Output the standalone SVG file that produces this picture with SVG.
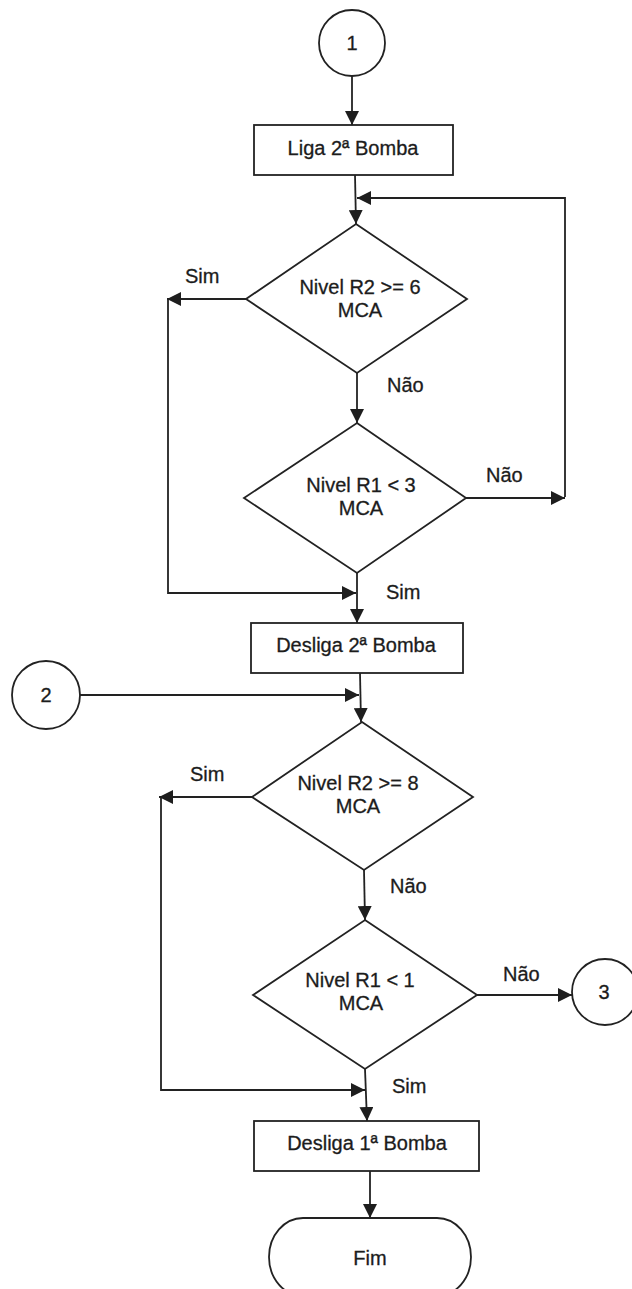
<svg xmlns="http://www.w3.org/2000/svg" width="632" height="1289" viewBox="0 0 632 1289">
  <defs>
    <marker id="arrow" viewBox="0 0 14 14" refX="14" refY="7" markerWidth="14" markerHeight="14" markerUnits="userSpaceOnUse" orient="auto">
      <path d="M0,0 L14,7 L0,14 Z" fill="#1e1e1e"/>
    </marker>
    <style>
      .shape { fill: #ffffff; stroke: #222222; stroke-width: 1.8; }
      .link { fill: none; stroke: #222222; stroke-width: 1.8; }
      .txt { font-family: "Liberation Sans", Arial, sans-serif; font-size: 20px; fill: #1c1c1c; stroke: #1c1c1c; stroke-width: 0.3; text-anchor: middle; }
      .lbl { font-family: "Liberation Sans", Arial, sans-serif; font-size: 20px; fill: #1c1c1c; stroke: #1c1c1c; stroke-width: 0.3; }
    </style>
  </defs>
  <rect width="632" height="1289" fill="#ffffff"/>

  <!-- connectors -->
  <g id="connectors">
    <path class="link" d="M352,76 L352,125" marker-end="url(#arrow)"/>
    <path class="link" d="M355,175 L356,224" marker-end="url(#arrow)"/>
    <path class="link" d="M565,497 L565,198 L357,198" marker-end="url(#arrow)"/>
    <path class="link" d="M246,299 L167,299" marker-end="url(#arrow)"/>
    <path class="link" d="M168,299 L168,593 L356,593"  marker-end="url(#arrow)"/>
    <path class="link" d="M357,373 L357,423" marker-end="url(#arrow)"/>
    <path class="link" d="M466,498 L565,498" marker-end="url(#arrow)"/>
    <path class="link" d="M357,573 L357,623" marker-end="url(#arrow)"/>
    <path class="link" d="M360,673 L361,722" marker-end="url(#arrow)"/>
    <path class="link" d="M80,695 L359,695" marker-end="url(#arrow)"/>
    <path class="link" d="M252,797 L159,797" marker-end="url(#arrow)"/>
    <path class="link" d="M161,797 L161,1090 L365,1090" marker-end="url(#arrow)"/>
    <path class="link" d="M364,870 L365,920" marker-end="url(#arrow)"/>
    <path class="link" d="M477,995 L572,995" marker-end="url(#arrow)"/>
    <path class="link" d="M365,1069 L367,1121" marker-end="url(#arrow)"/>
    <path class="link" d="M370,1171 L370,1218" marker-end="url(#arrow)"/>
  </g>

  <!-- connector labels -->
  <g id="labels">
    <text class="lbl" x="185" y="283">Sim</text>
    <text class="lbl" x="387" y="392">Não</text>
    <text class="lbl" x="486" y="482">Não</text>
    <text class="lbl" x="386" y="599">Sim</text>
    <text class="lbl" x="190" y="781">Sim</text>
    <text class="lbl" x="390" y="893">Não</text>
    <text class="lbl" x="503" y="981">Não</text>
    <text class="lbl" x="392" y="1093">Sim</text>
  </g>

  <g id="start1">
    <circle class="shape" cx="352" cy="43" r="33"/>
    <text class="txt" x="352" y="50">1</text>
  </g>

  <g id="liga2">
    <rect class="shape" x="254" y="125" width="199" height="50"/>
    <text class="txt" x="353" y="155">Liga 2ª Bomba</text>
  </g>

  <g id="teste_r2_6">
    <polygon class="shape" points="356,224 467,299 357,373 246,299"/>
    <text class="txt" x="360" y="294">Nivel R2 &gt;= 6</text>
    <text class="txt" x="360" y="317">MCA</text>
  </g>

  <g id="teste_r1_3">
    <polygon class="shape" points="357,423 466,498 357,573 244,498"/>
    <text class="txt" x="361" y="492">Nivel R1 &lt; 3</text>
    <text class="txt" x="361" y="515">MCA</text>
  </g>

  <g id="desliga2">
    <rect class="shape" x="251" y="623" width="212" height="50"/>
    <text class="txt" x="356" y="652">Desliga 2ª Bomba</text>
  </g>

  <g id="conector2">
    <circle class="shape" cx="46" cy="695" r="34"/>
    <text class="txt" x="46" y="702">2</text>
  </g>

  <g id="teste_r2_8">
    <polygon class="shape" points="362,722 473,797 364,870 252,797"/>
    <text class="txt" x="358" y="790">Nivel R2 &gt;= 8</text>
    <text class="txt" x="358" y="813">MCA</text>
  </g>

  <g id="teste_r1_1">
    <polygon class="shape" points="365,920 477,995 365,1069 253,995"/>
    <text class="txt" x="360" y="987">Nivel R1 &lt; 1</text>
    <text class="txt" x="361" y="1010">MCA</text>
  </g>

  <g id="conector3">
    <circle class="shape" cx="605" cy="992" r="33"/>
    <text class="txt" x="604" y="999">3</text>
  </g>

  <g id="desliga1">
    <rect class="shape" x="254" y="1121" width="225" height="50"/>
    <text class="txt" x="367" y="1150">Desliga 1ª Bomba</text>
  </g>

  <g id="fim">
    <rect class="shape" x="269" y="1218" width="202" height="78" rx="34" ry="39"/>
    <text class="txt" x="370" y="1265">Fim</text>
  </g>
</svg>
